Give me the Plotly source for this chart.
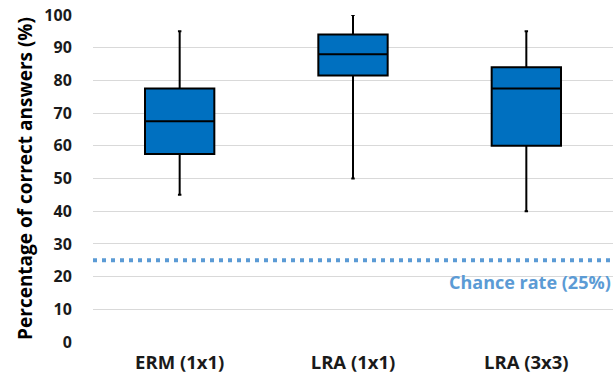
import plotly.graph_objects as go

categories = ["ERM (1x1)", "LRA (1x1)", "LRA (3x3)"]
lower_whisker = [45, 50, 40]
q1_values = [57.5, 81.5, 60]
median_values = [67.5, 88, 77.5]
q3_values = [77.5, 94, 84]
upper_whisker = [95, 100, 95]
chance_rate = 25
y_ticks = [0, 10, 20, 30, 40, 50, 60, 70, 80, 90, 100]

FONT = "Open Sans"

fig = go.Figure()
fig.add_trace(go.Box(
    x=categories,
    q1=q1_values,
    median=median_values,
    q3=q3_values,
    lowerfence=lower_whisker,
    upperfence=upper_whisker,
    fillcolor="#0070C0",
    line=dict(color="black", width=2),
    whiskerwidth=0.05,
    width=0.4,
    boxpoints=False,
    hoverinfo="skip",
    showlegend=False,
))

fig.add_shape(type="line", xref="paper", x0=0, x1=1, yref="y", y0=chance_rate, y1=chance_rate,
              line=dict(color="#5B9BD5", width=4, dash="4px,5px"), layer="above")
fig.add_annotation(xref="paper", x=1, yref="y", y=chance_rate - 6.8, text="<b>Chance rate (25%)</b>",
                   showarrow=False, xanchor="right", yanchor="middle",
                   font=dict(family=FONT, size=18, color="#5B9BD5"))

fig.update_layout(
    width=615, height=377,
    margin=dict(l=93, r=2, t=15, b=35),
    paper_bgcolor="white", plot_bgcolor="white",
    font=dict(family=FONT, color="black"),
)
fig.update_xaxes(
    type="category", range=[-0.5, 2.5],
    tickfont=dict(family=FONT, size=18.5, color="#1a1a1a", weight="bold"),
    showgrid=False, zeroline=False, showline=False, ticks="outside", ticklen=4, tickcolor="rgba(0,0,0,0)",
)
fig.update_yaxes(
    range=[0, 100], tickvals=y_ticks,
    tickfont=dict(family=FONT, size=16, color="#1a1a1a", weight="bold"),
    showgrid=True, gridcolor="#D9D9D9", gridwidth=1,
    zeroline=False, showline=False, ticks="outside", ticklen=17, tickcolor="rgba(0,0,0,0)",
    title=dict(text="<b>Percentage of correct answers (%)</b>", font=dict(family=FONT, size=19, color="black"), standoff=6),
)

fig.write_html("out.html", config={"displayModeBar": False},
               post_script="document.body.style.margin='0';")
